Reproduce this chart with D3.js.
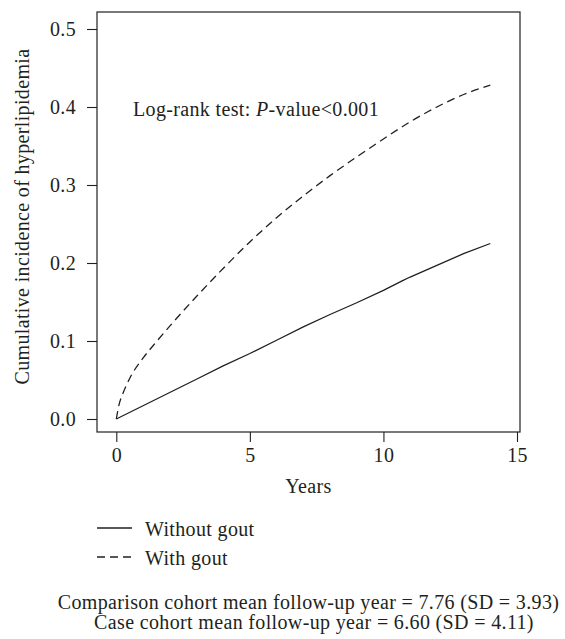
<!DOCTYPE html>
<html>
<head>
<meta charset="utf-8">
<script src="https://cdn.jsdelivr.net/npm/d3@7"></script>
<style>
  html, body { margin: 0; padding: 0; background: #fff; }
  svg text { font-family: "Liberation Serif", "Times New Roman", serif; fill: #231f20; letter-spacing: 0.35px; }
</style>
</head>
<body>
<svg id="chart" width="565" height="639"></svg>
<script>
// Cumulative incidence of hyperlipidemia by follow-up year
const years          = [0, 0.1, 0.25, 0.5, 1, 1.5, 2, 3, 4, 5, 6, 7, 8, 9, 10, 11, 12, 13, 14];
const withGout       = [0, 0.018, 0.033, 0.052, 0.078, 0.099, 0.119, 0.157, 0.193, 0.227, 0.258, 0.286, 0.312, 0.336, 0.359, 0.381, 0.400, 0.416, 0.428];
const soliYears      = [0, 1, 2, 3, 4, 5, 6, 7, 8, 9, 10, 10.7, 11, 12, 13, 14];
const withoutGout    = [0, 0.017, 0.034, 0.051, 0.068, 0.084, 0.101, 0.118, 0.134, 0.149, 0.165, 0.177, 0.182, 0.197, 0.212, 0.225];
const xTicks         = [0, 5, 10, 15];
const yTicks         = [0, 0.1, 0.2, 0.3, 0.4, 0.5];
const legendLabels   = ["Without gout", "With gout"];
const footnotes      = [
  "Comparison cohort mean follow-up year = 7.76 (SD = 3.93)",
  "Case cohort mean follow-up year = 6.60 (SD = 4.11)"
];

const ink = "#231f20";
const fs = 20;
const svg = d3.select("#chart");

const box = { left: 97, right: 520, top: 12, bottom: 432 };
const x = d3.scaleLinear().domain([0, 15]).range([116.3, 517]);
const y = d3.scaleLinear().domain([0, 0.5]).range([419, 29]);

// plot frame
svg.append("rect")
  .attr("x", box.left).attr("y", box.top)
  .attr("width", box.right - box.left).attr("height", box.bottom - box.top)
  .attr("fill", "none").attr("stroke", ink).attr("stroke-width", 1.2);

// axes
const yAxis = svg.append("g")
  .attr("transform", `translate(${box.left},0)`)
  .call(d3.axisLeft(y).tickValues(yTicks).tickFormat(d3.format(".1f")).tickSize(10).tickPadding(11));
const xAxis = svg.append("g")
  .attr("transform", `translate(0,${box.bottom})`)
  .call(d3.axisBottom(x).tickValues(xTicks).tickFormat(d3.format("d")).tickSize(10).tickPadding(6));
[xAxis, yAxis].forEach(g => {
  g.select(".domain").remove();
  g.selectAll(".tick line").attr("stroke", ink).attr("stroke-width", 1.1);
  g.selectAll(".tick text").attr("font-size", fs).attr("font-family", "Liberation Serif").style("fill", ink);
});

// axis titles
svg.append("text")
  .attr("x", (box.left + box.right) / 2).attr("y", 493)
  .attr("text-anchor", "middle").attr("font-size", fs)
  .text("Years");
svg.append("text")
  .attr("transform", `translate(29,${(box.top + box.bottom) / 2 - 5.5}) rotate(-90)`)
  .attr("text-anchor", "middle").attr("font-size", fs)
  .text("Cumulative incidence of hyperlipidemia");

// curves
const line = d3.line().x(d => x(d[0])).y(d => y(d[1]));
svg.append("path")
  .datum(soliYears.map((t, i) => [t, withoutGout[i]]))
  .attr("d", line).attr("fill", "none").attr("stroke", ink).attr("stroke-width", 1.3);
svg.append("path")
  .datum(years.map((t, i) => [t, withGout[i]]))
  .attr("d", d3.line().curve(d3.curveMonotoneX).x(d => x(d[0])).y(d => y(d[1])))
  .attr("fill", "none").attr("stroke", ink).attr("stroke-width", 1.3)
  .attr("stroke-dasharray", "8,5");

// log-rank annotation
const lr = svg.append("text").attr("x", 133).attr("y", 116).attr("font-size", fs);
lr.append("tspan").text("Log-rank test: ");
lr.append("tspan").attr("font-style", "italic").text("P");
lr.append("tspan").text("-value<0.001");

// legend
const legendY = [528, 557];
legendLabels.forEach((label, i) => {
  svg.append("line")
    .attr("x1", 97).attr("x2", 132).attr("y1", legendY[i]).attr("y2", legendY[i])
    .attr("stroke", ink).attr("stroke-width", 1.3)
    .attr("stroke-dasharray", i === 1 ? "8,5" : null);
  svg.append("text")
    .attr("x", 145).attr("y", legendY[i] + 8).attr("font-size", fs)
    .text(label);
});

// footnotes
const footX = [308.5, 314];
footnotes.forEach((t, i) => {
  svg.append("text")
    .attr("x", footX[i]).attr("y", 609 + i * 20)
    .attr("text-anchor", "middle").attr("font-size", fs)
    .text(t);
});
</script>
</body>
</html>
